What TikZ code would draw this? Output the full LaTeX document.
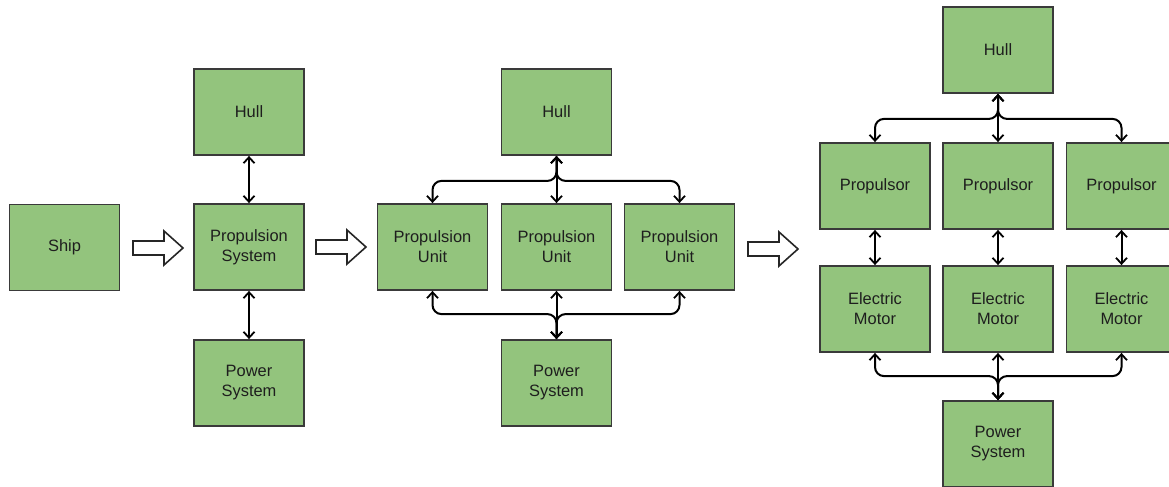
\documentclass[tikz,border=0pt]{standalone}
\usepackage{fontspec}
\setmainfont{Liberation Sans}
\usetikzlibrary{arrows.meta}
\definecolor{boxgreen}{HTML}{93C47D}
\definecolor{boxline}{HTML}{3A3A3A}
\definecolor{txt}{HTML}{1E1E1E}
\tikzset{
  blk/.style={draw=boxline, fill=boxgreen, line width=1.8bp, minimum width=110bp, minimum height=86bp,
    inner sep=0pt, align=center, text=txt, font=\fontsize{16.5}{20}\selectfont},
  conn/.style={line width=2bp, black, rounded corners=9bp, {Straight Barb[length=6bp,width=11bp,line width=1.8bp]}-{Straight Barb[length=6bp,width=11bp,line width=1.8bp]}},
  hollow/.style={draw=black!85, fill=white, line width=1.6bp, line join=miter}
}
\begin{document}
\begin{tikzpicture}[x=1bp,y=-1bp]
\useasboundingbox (0,0) rectangle (1169,487);
% left section
\node[blk] (ship) at (64.5,247.5) {Ship};
\node[blk] (hullA) at (249,112) {Hull};
\node[blk] (psA) at (249,247) {Propulsion\\System};
\node[blk] (powA) at (249,383) {Power\\System};
\draw[conn] (hullA.south) -- (psA.north);
\draw[conn] (psA.south) -- (powA.north);
% middle section
\node[blk] (hullB) at (556.5,112) {Hull};
\node[blk] (pu1) at (432.5,247) {Propulsion\\Unit};
\node[blk] (pu2) at (556.5,247) {Propulsion\\Unit};
\node[blk] (pu3) at (679.5,247) {Propulsion\\Unit};
\node[blk] (powB) at (556.5,383) {Power\\System};
\draw[conn] (hullB.south) -- ++(0,25) -| (pu1.north);
\draw[conn] (hullB.south) -- ++(0,25) -| (pu3.north);
\draw[conn] (hullB.south) -- (pu2.north);
\draw[conn] (powB.north) -- ++(0,-25) -| (pu1.south);
\draw[conn] (powB.north) -- ++(0,-25) -| (pu3.south);
\draw[conn] (powB.north) -- (pu2.south);
% right section
\node[blk] (hullC) at (998,50) {Hull};
\node[blk] (pr1) at (875,186) {Propulsor};
\node[blk] (pr2) at (998,186) {Propulsor};
\node[blk] (pr3) at (1121.5,186) {Propulsor};
\node[blk] (em1) at (875,309) {Electric\\Motor};
\node[blk] (em2) at (998,309) {Electric\\Motor};
\node[blk] (em3) at (1121.5,309) {Electric\\Motor};
\node[blk] (powC) at (998,444) {Power\\System};
\draw[conn] (hullC.south) -- ++(0,25) -| (pr1.north);
\draw[conn] (hullC.south) -- ++(0,25) -| (pr3.north);
\draw[conn] (hullC.south) -- (pr2.north);
\draw[conn] (pr1.south) -- (em1.north);
\draw[conn] (pr2.south) -- (em2.north);
\draw[conn] (pr3.south) -- (em3.north);
\draw[conn] (powC.north) -- ++(0,-24) -| (em1.south);
\draw[conn] (powC.north) -- ++(0,-24) -| (em3.south);
\draw[conn] (powC.north) -- (em2.south);
% hollow arrows
\foreach \x/\y in {133/248, 316/247, 748/249}{
  \draw[hollow] (\x,\y-7) -- ++(31,0) -- ++(0,-10) -- ++(19,17) -- ++(-19,17) -- ++(0,-10) -- ++(-31,0) -- cycle;
}
\end{tikzpicture}
\end{document}
